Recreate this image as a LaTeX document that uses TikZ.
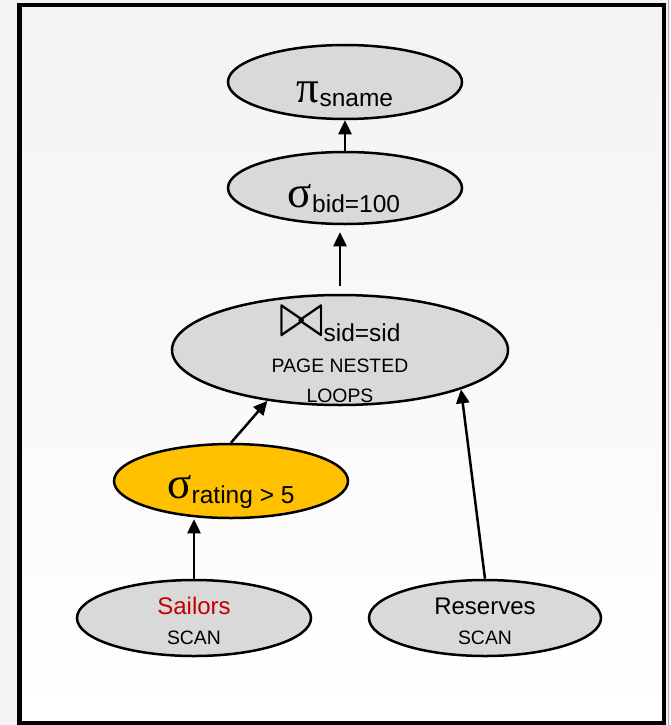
\documentclass[tikz,border=0pt]{standalone}
\usepackage{fontspec}
\setmainfont{Liberation Sans}
\newfontfamily\greekfont{Liberation Serif}
\usetikzlibrary{arrows.meta,shapes.geometric}

\definecolor{opfill}{HTML}{D9D9D9}
\definecolor{selfill}{HTML}{FFC000}
\definecolor{relred}{HTML}{C00000}
\definecolor{pagebg}{HTML}{F3F3F3}

% operator glyph followed by a lowered subscript
\newcommand\opglyph[1]{{\greekfont\fontsize{45}{45}\selectfont #1}}
\newcommand\opjoin{\scalebox{5.3}[6.3]{$\bowtie$}}
\newcommand\opsubscript[1]{\raisebox{-5pt}{\fontsize{24.5}{24.5}\selectfont #1}}

\begin{document}
\begin{tikzpicture}[x=1pt,y=-1pt,
  opnode/.style={ellipse, draw=black, line width=2.5pt, fill=opfill,
                 inner sep=0pt, minimum width=234pt, minimum height=74pt},
  flow/.style={line width=2.5pt, -{Triangle[length=14pt,width=13pt]}},
  optext/.style={anchor=base, inner sep=0pt},
  captext/.style={anchor=base, inner sep=0pt, font=\fontsize{19.4}{19.4}\selectfont},
  reltext/.style={anchor=base, inner sep=0pt, font=\fontsize{24}{24}\selectfont}
]
\useasboundingbox (0,0) rectangle (670,725);

% page and frame
\fill[pagebg] (0,0) rectangle (670,725);
\draw[black!30, line width=0.8pt] (668.5,0) -- (668.5,725);
\shade[top color=pagebg, bottom color=white] (19.5,5) rectangle (664,723);
\draw[line width=4.5pt] (19.5,5) rectangle (664,723);

% plan operators
\node[opnode] (pi) at (345,82) {};
\node[opnode, minimum height=72pt] (bid) at (345,188) {};
\node[opnode, minimum width=336pt, minimum height=110pt] (join) at (340,350) {};
\node[opnode, fill=selfill] (rating) at (231,481) {};
\node[opnode, minimum height=76pt] (sailors) at (194,618) {};
\node[opnode, minimum width=232pt, minimum height=76pt] (reserves) at (485,618) {};

% operator labels
\node[optext] at (345,102) {\opglyph{π}\opsubscript{sname}};
\node[optext] at (344,207) {\opglyph{σ}\opsubscript{bid=100}};
\node[optext] at (340,336) {\opjoin\opsubscript{sid=sid}};
\node[captext] at (340,372) {PAGE NESTED};
\node[captext] at (340,402) {LOOPS};
\node[optext] at (231,498) {\opglyph{σ}\opsubscript{rating > 5}};
\node[reltext, text=relred] at (194,614) {Sailors};
\node[captext] at (194,644) {SCAN};
\node[reltext] at (485,614) {Reserves};
\node[captext] at (485,644) {SCAN};

% data flow
\draw[flow] (bid.north) -- (pi.south);
\draw[flow, shorten <=8pt, shorten >=7pt] (join.north) -- (join.north |- bid.south);
\draw[flow] (rating.north) -- (join.215);
\draw[flow] (reserves.north) -- (join.-18);
\draw[flow] (sailors.north) -- (sailors.north |- rating.south);
\end{tikzpicture}
\end{document}
